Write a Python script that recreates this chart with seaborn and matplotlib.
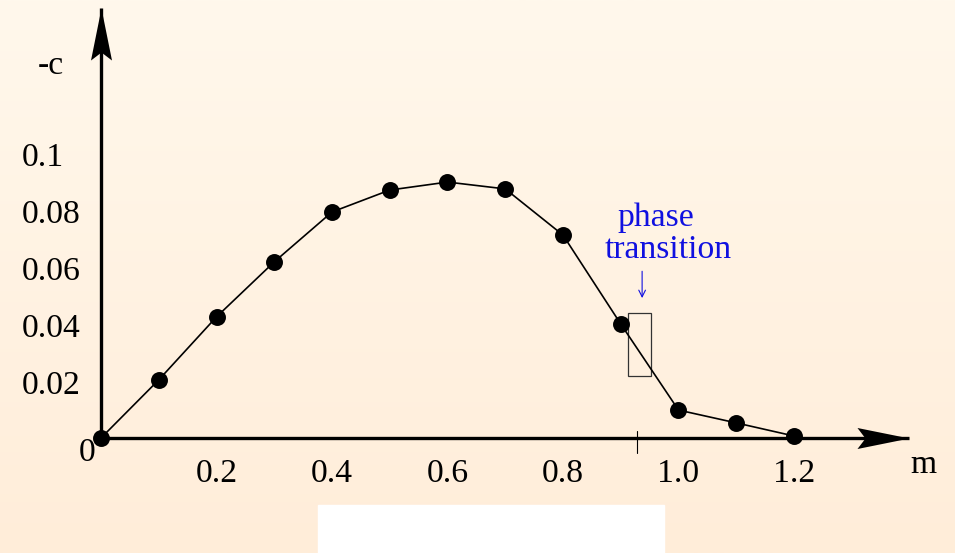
import numpy as np
import matplotlib
matplotlib.use("Agg")
import matplotlib.pyplot as plt
import seaborn as sns
from matplotlib.path import Path
from matplotlib.patches import Rectangle

# Ground-state energy (-c) versus m
m_values = [0.0, 0.1, 0.2, 0.3, 0.4, 0.5, 0.6, 0.7, 0.8, 0.9, 1.0, 1.1, 1.2]
neg_c = [0.0, 0.0204, 0.0425, 0.0618, 0.0793, 0.0870, 0.0898, 0.0874,
         0.0712, 0.0400, 0.0098, 0.0053, 0.0007]

x_ticks = [0.2, 0.4, 0.6, 0.8, 1.0, 1.2]
x_tick_labels = ["0.2", "0.4", "0.6", "0.8", "1.0", "1.2"]
y_ticks = [0.02, 0.04, 0.06, 0.08, 0.1]
y_tick_labels = ["0.02", "0.04", "0.06", "0.08", "0.1"]

# Phase transition marker
transition_m = 0.928
transition_box_m = (0.912, 0.952)
transition_box_c = (0.0218, 0.0439)
note_lines = ["phase", "transition"]
note_pos = [(0.961, 0.0744), (0.982, 0.0632)]
note_arrow_tail = (0.937, 0.0585)
note_arrow_head = (0.937, 0.0491)

x_axis_end = 1.399
y_axis_end = 0.1509

sns.set_theme(style="white")
plt.rcParams["font.family"] = ["Liberation Serif", "DejaVu Serif"]
plt.rcParams["text.color"] = "black"
FS = 24.2
BLUE = "#1010e0"

W, H = 955, 553
fig = plt.figure(figsize=(W / 100, H / 100), dpi=100)

# Soft vertical gradient background
bg = fig.add_axes([0, 0, 1, 1], zorder=0)
top = np.array([255, 248, 236]) / 255
bottom = np.array([255, 237, 217]) / 255
t = np.linspace(0, 1, 256)[:, None]
grad = (top * (1 - t) + bottom * t)[:, None, :]
bg.imshow(grad, aspect="auto", extent=[0, 1, 0, 1], origin="upper")
bg.add_patch(Rectangle((318 / W, 0), 346 / W, 48 / H, color="white",
                       transform=bg.transAxes, zorder=2))
bg.set_xlim(0, 1)
bg.set_ylim(0, 1)
bg.axis("off")

ax = fig.add_axes([0, 0, 1, 1], zorder=1)
ax.patch.set_alpha(0)
ax.set_xlim(-0.1749, 1.4788)
ax.set_ylim(-0.04035, 0.15368)
ax.axis("off")

# Axes with arrow heads
ax.plot([0, x_axis_end], [0, 0], color="black", lw=2.4, zorder=3,
        solid_capstyle="butt")
ax.plot([0, 0], [0, y_axis_end], color="black", lw=2.4, zorder=3,
        solid_capstyle="butt")

codes = [Path.MOVETO, Path.LINETO, Path.LINETO, Path.LINETO, Path.CLOSEPOLY]
head_x = Path([(0, 0), (-52, 10.5), (-44, 0), (-52, -10.5), (0, 0)], codes)
head_y = Path([(0, 0), (10.5, -52), (0, -44), (-10.5, -52), (0, 0)], codes)
ax.plot([x_axis_end], [0], marker=head_x, markersize=74.9, color="black",
        mew=0, zorder=4)
ax.plot([0], [y_axis_end], marker=head_y, markersize=74.9, color="black",
        mew=0, zorder=4)

# Data curve
sns.lineplot(x=m_values, y=neg_c, ax=ax, color="black", linewidth=1.2,
             marker="o", markersize=12.2, markeredgewidth=0, zorder=5)

# Tick labels
for xv, lab in zip(x_ticks, x_tick_labels):
    ax.annotate(lab, xy=(xv, 0), xytext=(0, -44), textcoords="offset pixels",
                ha="center", va="baseline", fontsize=FS)
for yv, lab in zip(y_ticks, y_tick_labels):
    ax.annotate(lab, xy=(0, yv), xytext=(-79, -13.5), textcoords="offset pixels",
                ha="left", va="baseline", fontsize=FS)
ax.annotate("0", xy=(0, 0), xytext=(-6, -23), textcoords="offset pixels",
            ha="right", va="baseline", fontsize=FS)

# Axis titles
ax.annotate("-c", xy=(0, y_axis_end), xytext=(-63, -66),
            textcoords="offset pixels", ha="left", va="baseline", fontsize=FS)
ax.annotate("m", xy=(x_axis_end, 0), xytext=(1, -35),
            textcoords="offset pixels", ha="left", va="baseline", fontsize=FS)

# Transition tick and box
ax.plot([transition_m, transition_m], [-0.00526, 0.00246], color="black",
        lw=0.8, zorder=3)
ax.add_patch(Rectangle((transition_box_m[0], transition_box_c[0]),
                       transition_box_m[1] - transition_box_m[0],
                       transition_box_c[1] - transition_box_c[0],
                       fill=False, edgecolor="#333333", lw=0.9, zorder=4))

for text, (px, py) in zip(note_lines, note_pos):
    ax.text(px, py, text, ha="center", va="baseline", fontsize=FS, color=BLUE)
ax.annotate("", xy=note_arrow_head, xytext=note_arrow_tail,
            arrowprops=dict(arrowstyle="->", color=BLUE, lw=0.8,
                            mutation_scale=12, shrinkA=0, shrinkB=0))

fig.savefig("out.png", dpi=100)
